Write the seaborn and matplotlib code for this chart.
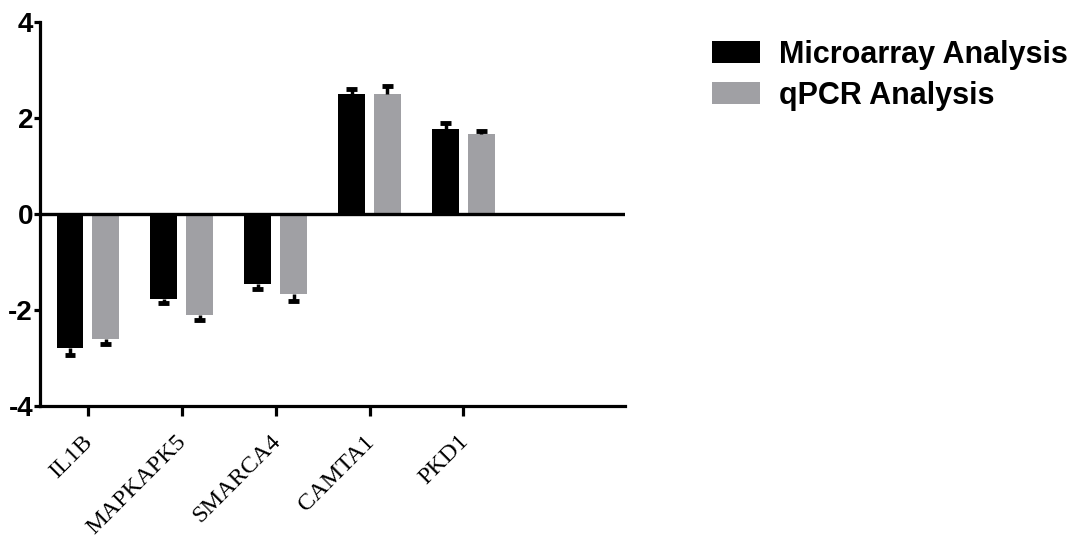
import matplotlib
matplotlib.use("Agg")
import matplotlib.pyplot as plt
import matplotlib.transforms as mtransforms
import pandas as pd
import seaborn as sns

genes = ["IL1B", "MAPKAPK5", "SMARCA4", "CAMTA1", "PKD1"]
series = ["Microarray Analysis", "qPCR Analysis"]
microarray = [-2.78, -1.77, -1.46, 2.51, 1.78]
microarray_err = [0.15, 0.08, 0.10, 0.09, 0.12]
qpcr = [-2.61, -2.11, -1.67, 2.51, 1.67]
qpcr_err = [0.10, 0.10, 0.14, 0.16, 0.07]
y_ticks = [-4, -2, 0, 2, 4]

colors = ["#000000", "#a0a0a4"]

df = pd.DataFrame({
    "gene": genes * 2,
    "series": [series[0]] * len(genes) + [series[1]] * len(genes),
    "value": microarray + qpcr,
    "err": microarray_err + qpcr_err,
})

sns.set_style("ticks")
plt.rcParams["font.family"] = ["Liberation Sans", "DejaVu Sans"]
plt.rcParams["axes.edgecolor"] = "black"
plt.rcParams["xtick.color"] = "black"
plt.rcParams["ytick.color"] = "black"
plt.rcParams["text.color"] = "black"

fig = plt.figure(figsize=(10.8, 5.54), dpi=100)
ax = fig.add_axes([0.037, 0.267, 0.5417, 0.693])

sns.barplot(
    data=df, x="gene", y="value", hue="series", order=genes, hue_order=series,
    palette=colors, width=0.76, gap=0.245, errorbar=None, saturation=1,
    edgecolor="none", ax=ax,
)

# one-sided error bars, pointing away from zero (stem + single cap)
cap_half = 0.058
for container, s in zip(ax.containers, series):
    sub = df[df["series"] == s].set_index("gene").loc[genes]
    for bar, (_, row) in zip(container, sub.iterrows()):
        x = bar.get_x() + bar.get_width() / 2
        sign = 1 if row["value"] > 0 else -1
        end = row["value"] + sign * row["err"]
        ax.vlines(x, row["value"], end, color="black", lw=2.5, zorder=1)
        ax.hlines(end, x - cap_half, x + cap_half, color="black", lw=3.5,
                  zorder=1)

ax.axhline(0, color="black", lw=2.4, zorder=3)
ax.set_ylim(-4, 4)
ax.set_xlim(-0.51, 5.72)
ax.set_yticks(y_ticks)
ax.set_yticklabels([str(t) for t in y_ticks], fontsize=20, fontweight="bold",
                   fontfamily="Liberation Sans")
ax.set_xticks(range(len(genes)))
ax.set_xticklabels(genes, rotation=45, ha="right", rotation_mode="anchor",
                   fontsize=17.5, fontfamily="Liberation Serif")
ax.set_xlabel("")
ax.set_ylabel("")

sns.despine(ax=ax)
for side in ["left", "bottom"]:
    ax.spines[side].set_linewidth(2.3)
ax.tick_params(axis="y", length=4, width=2.3, pad=1)
ax.tick_params(axis="x", length=7, width=2.3, pad=11)

shift = mtransforms.ScaledTranslation(-6 / 100, 0, fig.dpi_scale_trans)
for lab in ax.get_xticklabels():
    lab.set_transform(lab.get_transform() + shift)

handles, labels = ax.get_legend_handles_labels()
ax.legend(
    handles, labels, loc="upper left", bbox_to_anchor=(0.634, 0.978),
    bbox_transform=fig.transFigure, frameon=False,
    prop={"family": "Liberation Sans", "weight": "bold", "size": 22},
    handlelength=1.57, handleheight=0.69, handletextpad=0.6, labelspacing=0.36,
)

fig.savefig("out.png", dpi=100)
